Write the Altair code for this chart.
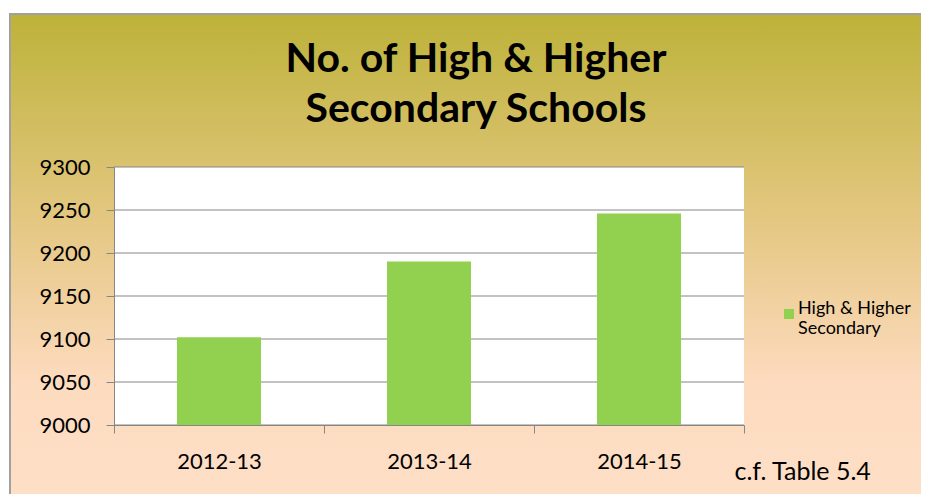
import altair as alt
import pandas as pd

years = ["2012-13", "2013-14", "2014-15"]
schools = [9102, 9190, 9246]
series_name = "High & Higher Secondary"
legend_lines = ["High & Higher", "Secondary"]
y_ticks = [9000, 9050, 9100, 9150, 9200, 9250, 9300]
title_lines = ["No. of High & Higher", "Secondary Schools"]
source_note = "c.f. Table 5.4"

W, H = 630, 258
FONT = "Lato"
AXIS_GREY = "#868686"

bars_df = pd.DataFrame({"Year": years, "Schools": schools, "Series": [series_name] * len(years)})
grid_df = pd.DataFrame({"v": y_ticks})

y_scale = alt.Scale(domain=[y_ticks[0], y_ticks[-1]], nice=False, zero=False)
y_axis = alt.Axis(
    values=y_ticks, format="d", grid=False, domain=True, domainColor=AXIS_GREY, ticks=True,
    tickColor=AXIS_GREY, tickSize=8, labelPadding=16, labelFont=FONT,
    labelFontSize=22, labelColor="black", title=None, zindex=1,
)

gradient = alt.LinearGradient(
    gradient="linear", x1=0, y1=0, x2=0, y2=1,
    stops=[
        alt.GradientStop(offset=0.0, color="#BDB239"),
        alt.GradientStop(offset=0.30, color="#E5C884"),
        alt.GradientStop(offset=0.52, color="#FDDBBF"),
        alt.GradientStop(offset=1.0, color="#FEE8D6"),
    ],
)

one = alt.Data(values=[{"k": 1}])

background = alt.Chart(one).mark_rect(
    fill=gradient, stroke="#A0A0A0", strokeWidth=2, clip=False
).encode(
    x=alt.value(-104), x2=alt.value(W + 400), y=alt.value(-153), y2=alt.value(H + 300)
)

plot_bg = alt.Chart(one).mark_rect(fill="white").encode(
    x=alt.value(0), x2=alt.value(W), y=alt.value(0), y2=alt.value(H)
)

grid = alt.Chart(grid_df).mark_rule(color=AXIS_GREY, strokeWidth=1).encode(
    y=alt.Y("v:Q", scale=y_scale, axis=y_axis)
)

legend_expr = "[" + ", ".join("'" + s + "'" for s in legend_lines) + "]"

bars = alt.Chart(bars_df).mark_bar(
    width=alt.RelativeBandSize(0.4)
).encode(
    x=alt.X(
        "Year:N", sort=years,
        scale=alt.Scale(paddingInner=0, paddingOuter=0),
        axis=alt.Axis(
            tickBand="extent", labelAngle=0, tickSize=8, tickColor=AXIS_GREY,
            domainColor=AXIS_GREY, labelPadding=18, labelFont=FONT,
            labelFontSize=22, labelColor="black", zindex=1,
            title=source_note, titleFont=FONT, titleFontSize=25,
            titleFontWeight="normal", titleColor="black", titleAlign="left",
            titleAnchor="start", titleX=620, titleY=46, titleBaseline="middle",
        ),
    ),
    y=alt.Y("Schools:Q", scale=y_scale, axis=y_axis),
    y2=alt.datum(y_ticks[0]),
    color=alt.Color(
        "Series:N",
        scale=alt.Scale(domain=[series_name], range=["#92D050"]),
        legend=alt.Legend(
            orient="none", legendX=666, legendY=138, title=None, padding=0,
            symbolType="square", symbolSize=100, symbolStrokeWidth=0,
            labelFont=FONT, labelFontSize=18, labelColor="black", labelOffset=0,
            labelExpr=legend_expr, labelBaseline="alphabetic", zindex=1,
        ),
    ),
)

chart = alt.layer(background, plot_bg, grid, bars).properties(
    width=W, height=H,
    padding={"left": 106, "top": 159, "right": 177, "bottom": 69},
    autosize=alt.AutoSizeParams(type="none"),
    title=alt.TitleParams(
        text=title_lines, font=FONT, fontSize=41, fontWeight="bold", frame="group",
        anchor="middle", dx=47, offset=-118, lineHeight=50, color="black", zindex=1,
    ),
).configure_view(stroke=None)

chart.save("out.html", embed_options={"renderer": "svg", "actions": False})
